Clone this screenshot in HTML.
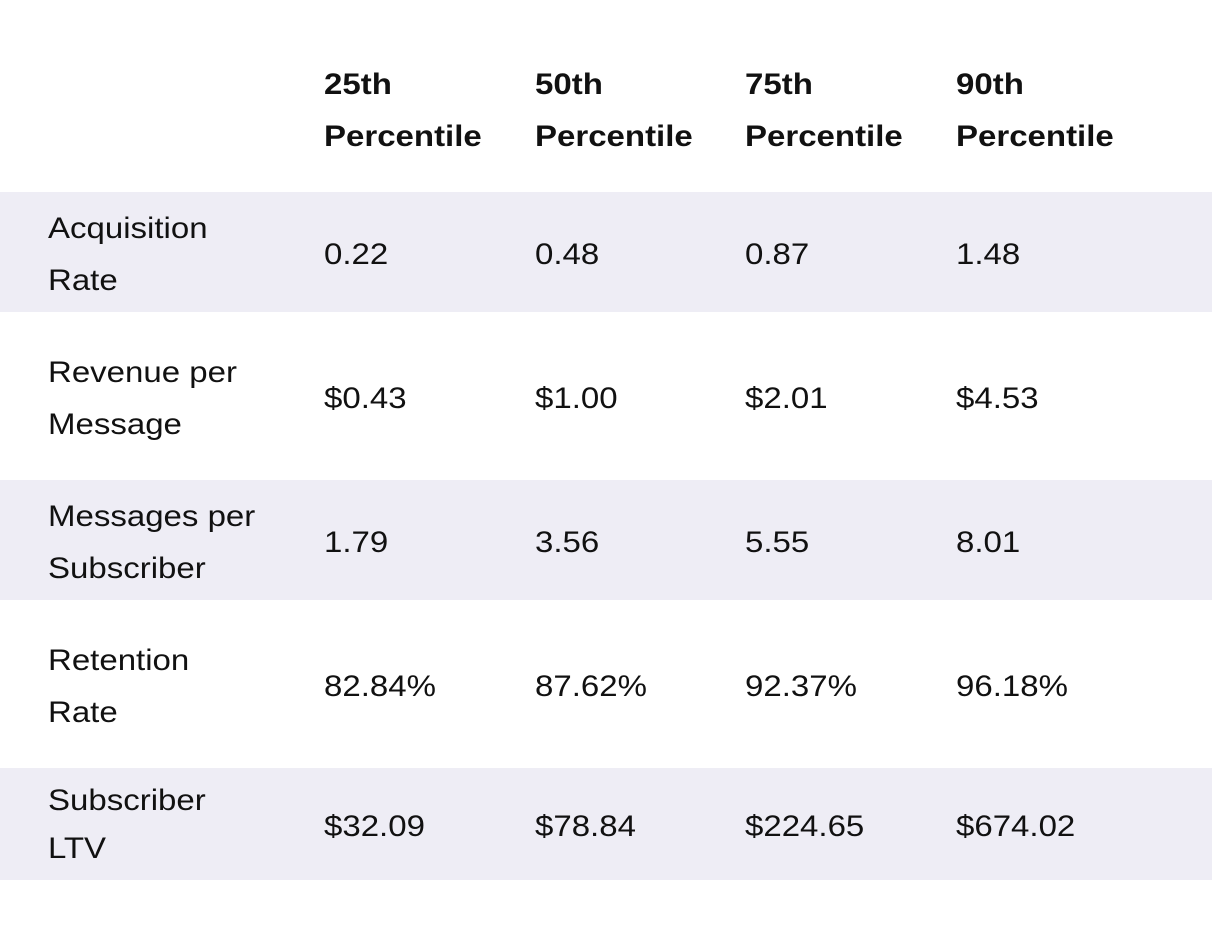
<!DOCTYPE html>
<html><head><meta charset="utf-8"><style>
body{margin:0;width:1212px;height:928px;background:#fff;font-family:"Liberation Sans",sans-serif;color:#111;position:relative;overflow:hidden}
.band{position:absolute;left:0;width:1212px;background:#eeedf5}
.t{position:absolute;font-size:30px;line-height:52px;white-space:nowrap;transform:scaleX(1.1);transform-origin:0 0;margin-top:2px}
.h{font-weight:bold}
</style></head><body>
<div class="band" style="top:192px;height:120px"></div>
<div class="band" style="top:480px;height:120px"></div>
<div class="band" style="top:768px;height:112px"></div>

<div class="t h" style="left:324px;top:57px">25th<br>Percentile</div>
<div class="t h" style="left:535px;top:57px">50th<br>Percentile</div>
<div class="t h" style="left:745px;top:57px">75th<br>Percentile</div>
<div class="t h" style="left:956px;top:57px">90th<br>Percentile</div>

<div class="t" style="left:48px;top:201px">Acquisition<br>Rate</div>
<div class="t" style="left:324px;top:227px">0.22</div>
<div class="t" style="left:535px;top:227px">0.48</div>
<div class="t" style="left:745px;top:227px">0.87</div>
<div class="t" style="left:956px;top:227px">1.48</div>

<div class="t" style="left:48px;top:345px">Revenue per<br>Message</div>
<div class="t" style="left:324px;top:371px">$0.43</div>
<div class="t" style="left:535px;top:371px">$1.00</div>
<div class="t" style="left:745px;top:371px">$2.01</div>
<div class="t" style="left:956px;top:371px">$4.53</div>

<div class="t" style="left:48px;top:489px">Messages per<br>Subscriber</div>
<div class="t" style="left:324px;top:515px">1.79</div>
<div class="t" style="left:535px;top:515px">3.56</div>
<div class="t" style="left:745px;top:515px">5.55</div>
<div class="t" style="left:956px;top:515px">8.01</div>

<div class="t" style="left:48px;top:633px">Retention<br>Rate</div>
<div class="t" style="left:324px;top:659px">82.84%</div>
<div class="t" style="left:535px;top:659px">87.62%</div>
<div class="t" style="left:745px;top:659px">92.37%</div>
<div class="t" style="left:956px;top:659px">96.18%</div>

<div class="t" style="left:48px;top:775px;line-height:48px">Subscriber<br>LTV</div>
<div class="t" style="left:324px;top:799px">$32.09</div>
<div class="t" style="left:535px;top:799px">$78.84</div>
<div class="t" style="left:745px;top:799px">$224.65</div>
<div class="t" style="left:956px;top:799px">$674.02</div>
</body></html>
